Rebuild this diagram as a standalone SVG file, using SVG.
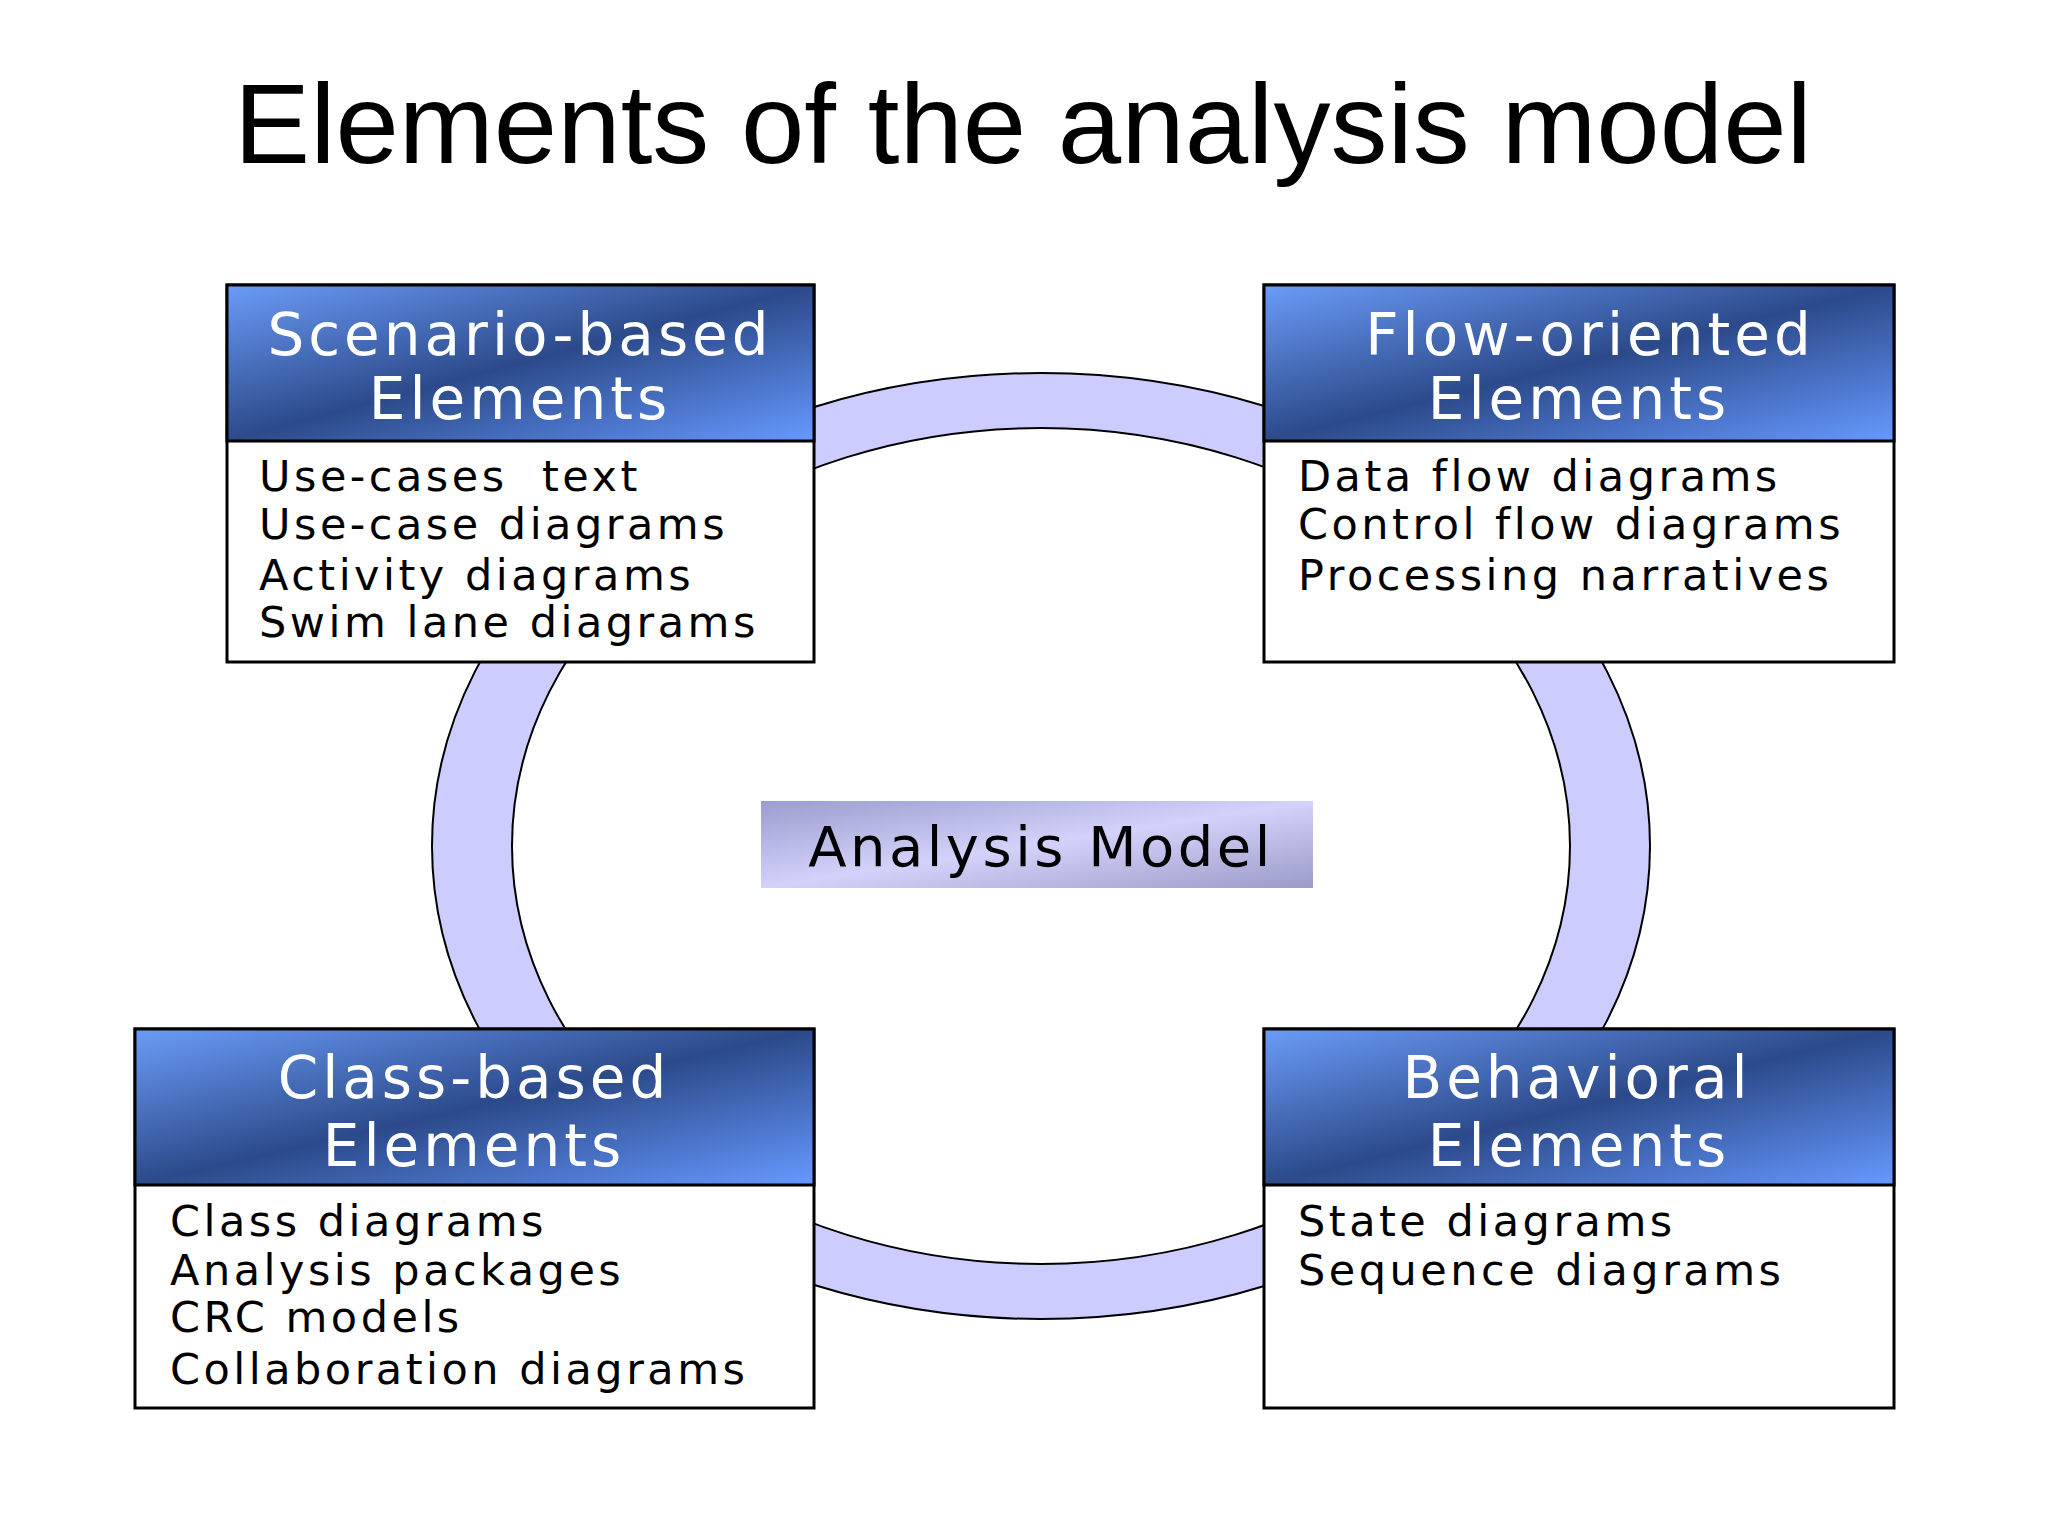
<svg xmlns="http://www.w3.org/2000/svg" width="2048" height="1536" viewBox="0 0 2048 1536">
<defs>
<linearGradient id="hg" x1="0" y1="0" x2="1" y2="1">
<stop offset="0" stop-color="#6b9cf8"/><stop offset="0.5" stop-color="#2c4a8a"/><stop offset="1" stop-color="#6699ff"/>
</linearGradient>
<linearGradient id="ag" x1="0" y1="0" x2="1" y2="1">
<stop offset="0" stop-color="#9c9ccf"/><stop offset="0.5" stop-color="#d2d2fa"/><stop offset="1" stop-color="#9b9bc8"/>
</linearGradient>
<style>
.box{fill:#fff;stroke:#000;stroke-width:3}
.hd{fill:url(#hg);stroke:#000;stroke-width:3}
.ht{font-family:"DejaVu Sans",Verdana,sans-serif;font-size:58px;fill:#fff;text-anchor:middle;letter-spacing:4px}
.bt{font-family:"DejaVu Sans",Verdana,sans-serif;font-size:43px;fill:#000;letter-spacing:3.5px}
</style>
</defs>
<rect width="2048" height="1536" fill="#fff"/>
<text x="1023" y="163" font-family="Liberation Sans,Arial,sans-serif" font-size="114" text-anchor="middle">Elements of the analysis model</text>
<g id="connectors">
<path fill="#ccccff" stroke="#000" stroke-width="2" fill-rule="evenodd" d="M432,846 a609,473 0 1,0 1218,0 a609,473 0 1,0 -1218,0 Z M512,846 a529,418 0 1,0 1058,0 a529,418 0 1,0 -1058,0 Z"/>
</g>
<g id="scenario">
<rect class="box" x="227" y="285" width="587" height="377"/>
<rect class="hd" x="227" y="285" width="587" height="156"/>
<text class="ht" x="520" y="355">Scenario-based</text>
<text class="ht" x="520" y="419">Elements</text>
<text class="bt" x="259" y="491" xml:space="preserve">Use-cases  text</text>
<text class="bt" x="259" y="539">Use-case diagrams</text>
<text class="bt" x="259" y="590">Activity diagrams</text>
<text class="bt" x="259" y="637">Swim lane diagrams</text>
</g>
<g id="flow">
<rect class="box" x="1264" y="285" width="630" height="377"/>
<rect class="hd" x="1264" y="285" width="630" height="156"/>
<text class="ht" x="1590" y="355">Flow-oriented</text>
<text class="ht" x="1579" y="419">Elements</text>
<text class="bt" x="1298" y="491">Data flow diagrams</text>
<text class="bt" x="1298" y="539">Control flow diagrams</text>
<text class="bt" x="1298" y="590">Processing narratives</text>
</g>
<g id="class">
<rect class="box" x="135" y="1029" width="679" height="379"/>
<rect class="hd" x="135" y="1029" width="679" height="156"/>
<text class="ht" x="474" y="1098">Class-based</text>
<text class="ht" x="474" y="1166">Elements</text>
<text class="bt" x="170" y="1236">Class diagrams</text>
<text class="bt" x="170" y="1285">Analysis packages</text>
<text class="bt" x="170" y="1332">CRC models</text>
<text class="bt" x="170" y="1384">Collaboration diagrams</text>
</g>
<g id="behavioral">
<rect class="box" x="1264" y="1029" width="630" height="379"/>
<rect class="hd" x="1264" y="1029" width="630" height="156"/>
<text class="ht" x="1577" y="1098">Behavioral</text>
<text class="ht" x="1579" y="1166">Elements</text>
<text class="bt" x="1298" y="1236">State diagrams</text>
<text class="bt" x="1298" y="1285">Sequence diagrams</text>
</g>
<g id="analysis">
<rect x="761" y="801" width="552" height="87" fill="url(#ag)"/>
<text x="1041" y="866" font-family="DejaVu Sans,Verdana,sans-serif" font-size="56" text-anchor="middle" letter-spacing="3.5">Analysis Model</text>
</g>
</svg>
